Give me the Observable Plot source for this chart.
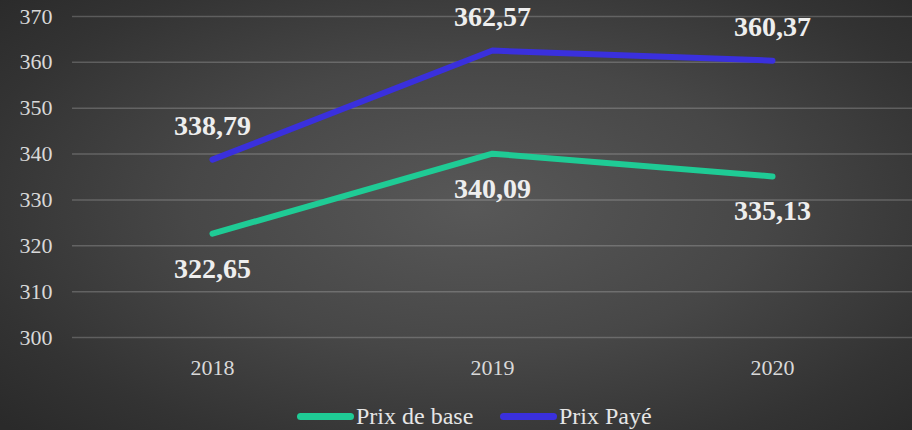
<!DOCTYPE html>
<html>
<head>
<meta charset="utf-8">
<script src="https://cdn.jsdelivr.net/npm/d3@7"></script>
<script src="https://cdn.jsdelivr.net/npm/@observablehq/plot@0.6"></script>
<style>
  html, body { margin: 0; padding: 0; }
  body {
    width: 912px; height: 430px; overflow: hidden;
    font-family: 'Liberation Serif', serif;
    background: radial-gradient(ellipse 70% 75% at 52% 48%, #585858 0%, #474747 45%, #333333 80%, #2a2a2a 100%);
  }
  #chart svg { display: block; background: transparent; }
  #legend { position: relative; height: 35px; }
  .item { position: absolute; top: 4px; height: 35px; display: flex; align-items: center; color: #e6e6e6; font-size: 24px; }
  .sw { display: inline-block; width: 57px; height: 7px; border-radius: 3.5px; margin-right: 2px; }
</style>
</head>
<body>
<div id="chart"></div>
<div id="legend"></div>
<script>
const years = ["2018", "2019", "2020"];
const prixBase = [322.65, 340.09, 335.13];
const prixPaye = [338.79, 362.57, 360.37];
const seriesNames = ["Prix de base", "Prix Payé"];
const seriesColors = ["#1fcb95", "#3a30dd"];
const yTicks = [300, 310, 320, 330, 340, 350, 360, 370];

const FONT = "Liberation Serif";
const fmt = v => v.toFixed(2).replace(".", ",");
const data = [];
years.forEach((y, i) => {
  data.push({year: y, value: prixBase[i], series: seriesNames[0]});
  data.push({year: y, value: prixPaye[i], series: seriesNames[1]});
});
const base = data.filter(d => d.series === seriesNames[0]);
const paye = data.filter(d => d.series === seriesNames[1]);

const chart = Plot.plot({
  width: 912,
  height: 395,
  marginLeft: 72,
  marginRight: 0,
  marginTop: 16,
  marginBottom: 58,
  style: {fontFamily: FONT, color: "#d9d9d9", background: "transparent"},
  x: {type: "point", domain: years, padding: 0.5, label: null},
  y: {domain: [300, 370], label: null},
  color: {domain: seriesNames, range: seriesColors},
  marks: [
    Plot.gridY(yTicks, {stroke: "#ffffff", strokeOpacity: 0.2, strokeWidth: 1.5}),
    Plot.axisY(yTicks, {tickSize: 0, tickPadding: 20, fontSize: 22, fill: "#d9d9d9", label: null}),
    Plot.axisX({tickSize: 0, tickPadding: 22, fontSize: 22, fill: "#d9d9d9", label: null}),
    Plot.line(data, {x: "year", y: "value", z: "series", stroke: "series", strokeWidth: 6, strokeLinecap: "round", strokeLinejoin: "round", style: "filter: drop-shadow(2px 3px 2px rgba(0,0,0,0.55))"}),
    Plot.text(paye, {x: "year", y: "value", text: d => fmt(d.value), dy: -34, fontSize: 28, fontWeight: "bold", fontFamily: FONT, fill: "#eeeeee"}),
    Plot.text(base, {x: "year", y: "value", text: d => fmt(d.value), dy: 35, fontSize: 28, fontWeight: "bold", fontFamily: FONT, fill: "#eeeeee"})
  ]
});
document.getElementById("chart").append(chart);

const legend = document.getElementById("legend");
const lefts = [297, 500];
seriesNames.forEach((name, i) => {
  const it = document.createElement("div");
  it.className = "item";
  it.style.left = lefts[i] + "px";
  const sw = document.createElement("span");
  sw.className = "sw";
  sw.style.background = seriesColors[i];
  it.append(sw, document.createTextNode(name));
  legend.append(it);
});
</script>
</body>
</html>
